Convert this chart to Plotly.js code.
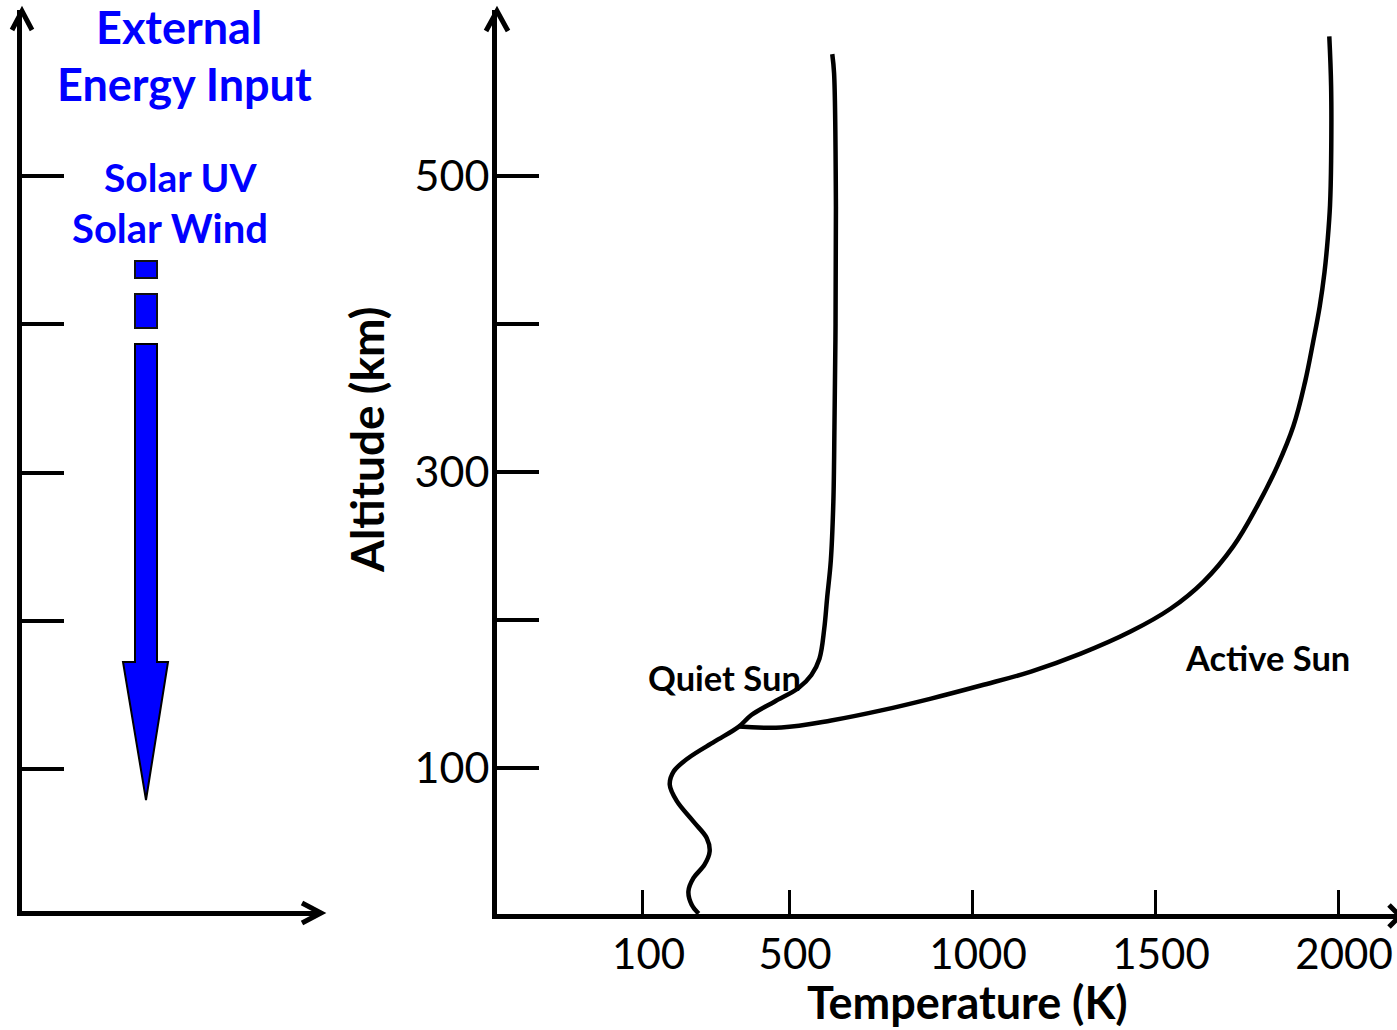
<!DOCTYPE html>
<html>
<head>
<meta charset="utf-8">
<script src="https://cdn.plot.ly/plotly-3.0.1.min.js"></script>
<style>html,body{margin:0;padding:0;background:#fff;}#chart{width:1397px;height:1030px;}</style>
</head>
<body>
<div id="chart"></div>
<script>
// ---- data ----
const quietTemp = [253, 234, 225, 239, 269, 283, 275, 239, 193, 174, 185, 225, 296, 362, 397, 460, 525, 561, 583, 596, 604, 614, 621, 624, 627, 628, 623, 618];
const quietAlt  = [2, 8, 17, 26, 35, 44, 53, 64, 78, 89, 98, 107, 118, 128, 136, 145, 154, 163, 174, 194, 215, 240, 280, 330, 400, 479, 569, 582];
const activeTemp = [362, 479, 615, 752, 888, 1024, 1161, 1297, 1433, 1542, 1632, 1714, 1779, 1834, 1878, 1910, 1932, 1950, 1963, 1972, 1978, 1981, 1981, 1976];
const activeAlt  = [128.3, 127.6, 132.3, 139.1, 147.1, 155.9, 165.3, 177.4, 192.3, 207.7, 225.9, 250, 277, 304, 331, 361, 388, 412, 435, 458, 480, 510, 560, 594];
const xTickVals = [100, 500, 1000, 1500, 2000];
const xTickText = ['100', '500', '1000', '1500', '2000'];
const yTickVals = [100, 200, 300, 400, 500];
const yTickText = ['100', '', '300', '', '500'];
const leftTickVals = [100, 200, 300, 400, 500];

// ---- helpers (pixel -> paper) ----
const W = 1397, H = 1030;
const px = x => x / W;
const py = y => 1 - y / H;
const FONT = 'Lato, "Open Sans", sans-serif';
const BLUE = '#0000ff';

function pathPx(pts, close) {
  let s = pts.map((p, i) => (i ? 'L' : 'M') + px(p[0]).toFixed(5) + ',' + py(p[1]).toFixed(5)).join(' ');
  return close ? s + ' Z' : s;
}

const traces = [
  {x: quietTemp, y: quietAlt, mode: 'lines', line: {color: '#000', width: 4.5, shape: 'spline', smoothing: 1},
   hoverinfo: 'skip', showlegend: false},
  {x: activeTemp, y: activeAlt, mode: 'lines', line: {color: '#000', width: 4.5, shape: 'spline', smoothing: 1.1},
   hoverinfo: 'skip', showlegend: false},
  {x: [], y: [], xaxis: 'x2', yaxis: 'y2', showlegend: false, hoverinfo: 'skip'}
];

const shapes = [
  // right panel arrowheads
  {type: 'path', xref: 'paper', yref: 'paper', path: pathPx([[486, 31], [497, 11], [508, 31]]), line: {color: '#000', width: 5}},
  {type: 'path', xref: 'paper', yref: 'paper', path: pathPx([[1389, 905], [1400, 916], [1389, 927]]), line: {color: '#000', width: 5}},
  // left panel arrowheads
  {type: 'path', xref: 'paper', yref: 'paper', path: pathPx([[12, 30], [22, 11], [32, 30]]), line: {color: '#000', width: 5}},
  {type: 'path', xref: 'paper', yref: 'paper', path: pathPx([[302, 903], [321, 913], [302, 923]]), line: {color: '#000', width: 5}},
  // blue dashed arrow
  {type: 'rect', xref: 'paper', yref: 'paper', x0: px(135), x1: px(157), y0: py(278), y1: py(261),
   fillcolor: BLUE, line: {color: '#111', width: 2}},
  {type: 'rect', xref: 'paper', yref: 'paper', x0: px(135), x1: px(157), y0: py(328), y1: py(294),
   fillcolor: BLUE, line: {color: '#111', width: 2}},
  {type: 'path', xref: 'paper', yref: 'paper',
   path: pathPx([[135, 344], [157, 344], [157, 662], [168, 662], [146, 800], [123, 662], [135, 662]], true),
   fillcolor: BLUE, line: {color: '#000', width: 2}}
];

function ann(text, x, y, size, color, opts) {
  return Object.assign({text: text, xref: 'paper', yref: 'paper', x: px(x), y: py(y), xanchor: 'center', yanchor: 'middle',
    showarrow: false, font: {family: FONT, size: size, color: color, weight: 700}}, opts || {});
}

const annotations = [
  ann('<b>External</b>', 179, 27, 45, BLUE),
  ann('<b>Energy Input</b>', 184, 84, 45, BLUE),
  ann('<b>Solar UV</b>', 180, 177, 39, BLUE),
  ann('<b>Solar Wind</b>', 170, 228, 40, BLUE),
  ann('<b>Quiet Sun</b>', 724, 677, 34.5, '#000'),
  ann('<b>Active Sun</b>', 1267, 657, 34.5, '#000'),
  ann('<b>Temperature (K)</b>', 967, 1002, 45, '#000'),
  ann('<b>Altitude (km)</b>', 366, 440, 46, '#000', {textangle: -90})
];

const layout = {
  width: W, height: H,
  margin: {l: 0, r: 0, t: 0, b: 0, pad: 0},
  paper_bgcolor: '#fff', plot_bgcolor: 'rgba(0,0,0,0)',
  showlegend: false,
  xaxis: {
    domain: [px(497), 1], anchor: 'y', range: [-298, 2161],
    showgrid: false, zeroline: false, showline: true, linecolor: '#000', linewidth: 5,
    ticks: 'inside', ticklen: 24, tickwidth: 3, tickcolor: '#000',
    tickmode: 'array', tickvals: xTickVals, ticktext: xTickText,
    tickfont: {family: FONT, size: 42, color: '#000'},
    ticklabelshift: 6, ticklabelstandoff: 0,
    automargin: false, fixedrange: true
  },
  yaxis: {
    domain: [py(914), py(10)], anchor: 'x', range: [1.7, 611.8],
    showgrid: false, zeroline: false, showline: true, linecolor: '#000', linewidth: 5,
    ticks: 'inside', ticklen: 42, tickwidth: 4, tickcolor: '#000',
    tickmode: 'array', tickvals: yTickVals, ticktext: yTickText,
    tickfont: {family: FONT, size: 43, color: '#000'},
    ticklabelstandoff: -6,
    automargin: false, fixedrange: true
  },
  xaxis2: {
    domain: [px(22), px(320)], anchor: 'y2', range: [0, 1],
    showgrid: false, zeroline: false, showline: true, linecolor: '#000', linewidth: 5,
    ticks: '', showticklabels: false, automargin: false, fixedrange: true
  },
  yaxis2: {
    domain: [py(911), py(10)], anchor: 'x2', range: [4.4, 611.8],
    showgrid: false, zeroline: false, showline: true, linecolor: '#000', linewidth: 5,
    ticks: 'inside', ticklen: 42, tickwidth: 4, tickcolor: '#000',
    tickmode: 'array', tickvals: leftTickVals, showticklabels: false,
    automargin: false, fixedrange: true
  },
  shapes: shapes,
  annotations: annotations
};

Plotly.newPlot('chart', traces, layout, {displayModeBar: false, staticPlot: true});
</script>
</body>
</html>
